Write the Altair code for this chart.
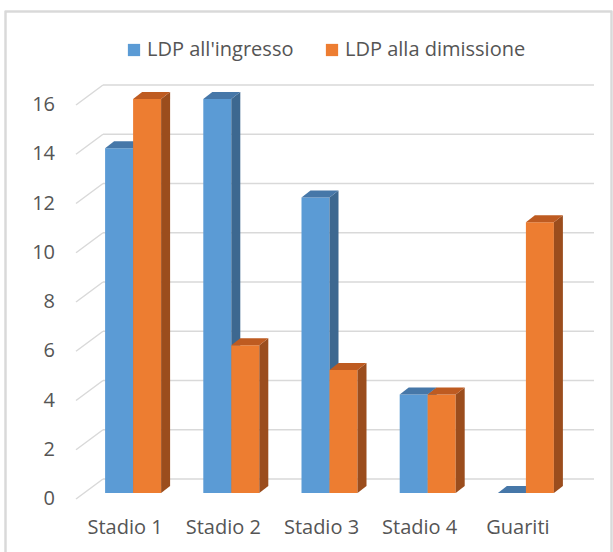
import altair as alt
import pandas as pd

# ---- data ----
categories = ["Stadio 1", "Stadio 2", "Stadio 3", "Stadio 4", "Guariti"]
series_names = ["LDP all'ingresso", "LDP alla dimissione"]
ldp_ingresso = [14, 16, 12, 4, 0]
ldp_dimissione = [16, 6, 5, 4, 11]
y_ticks = [0, 2, 4, 6, 8, 10, 12, 14, 16]

# ---- styling / geometry ----
FONT = "Open Sans"
TXT = "#555555"
GRID = "#d9d9d9"
FRONT = ["#5B9BD5", "#ED7D31"]
TOP = ["#4677A8", "#BE5B21"]
SIDE = ["#3D6890", "#9B4D1D"]

PLOT_W, PLOT_H = 491, 394
X_DOM = [-0.5, len(categories) - 0.5]
Y_DOM = [0, 16]
PX_X = PLOT_W / (X_DOM[1] - X_DOM[0])
PX_Y = PLOT_H / (Y_DOM[1] - Y_DOM[0])
BAR_PX = 28
DEPTH_DX, DEPTH_DY = 9, 7
BW = BAR_PX / PX_X
DXU = DEPTH_DX / PX_X
DYU = DEPTH_DY / PX_Y

values = [ldp_ingresso, ldp_dimissione]

fronts, sides, tops = [], [], []
for s, (name, vals) in enumerate(zip(series_names, values)):
    for i, (cat, v) in enumerate(zip(categories, vals)):
        x0 = i + (s - 1) * BW
        x1 = x0 + BW
        bid = f"{s}-{i}"
        fronts.append(dict(series=name, s=s, cat=cat, x0=x0, x1=x1, v=v))
        sides += [
            dict(id=bid, s=s, x=x1, y=v, y2=0),
            dict(id=bid, s=s, x=x1 + DXU, y=v + DYU, y2=DYU),
        ]
        tops += [
            dict(id=bid, s=s, x=x0, y=v, y2=v),
            dict(id=bid, s=s, x=x0 + DXU, y=v + DYU, y2=v),
            dict(id=bid, s=s, x=x1, y=v + DYU, y2=v),
            dict(id=bid, s=s, x=x1 + DXU, y=v + DYU, y2=v + DYU),
        ]
front_df = pd.DataFrame(fronts)
side_df = pd.DataFrame(sides)
top_df = pd.DataFrame(tops)
tick_df = pd.DataFrame({"t": y_ticks, "lab": [str(t) for t in y_ticks]})
cat_df = pd.DataFrame({"i": list(range(len(categories))), "cat": categories})

xs = alt.Scale(domain=X_DOM, nice=False, zero=False)
ys = alt.Scale(domain=Y_DOM, nice=False, zero=False)

# back-wall gridlines
grid = alt.Chart(tick_df).mark_rule(
    color=GRID, strokeWidth=1.5, xOffset=19, x2Offset=19, yOffset=-14, y2Offset=-14
).encode(
    x=alt.datum(X_DOM[0], scale=xs, axis=None),
    x2=alt.datum(X_DOM[1]),
    y=alt.Y("t:Q", scale=ys, axis=None),
    y2="t:Q",
)
# left-wall diagonals
diag = alt.Chart(tick_df).mark_rule(
    color=GRID, strokeWidth=1.5, xOffset=-8, x2Offset=19, yOffset=6, y2Offset=-14
).encode(
    x=alt.datum(X_DOM[0], scale=xs, axis=None),
    x2=alt.datum(X_DOM[0]),
    y=alt.Y("t:Q", scale=ys, axis=None),
    y2="t:Q",
)
ylab = alt.Chart(tick_df).mark_text(
    align="right", baseline="middle", xOffset=-29, yOffset=6,
    font=FONT, fontSize=20, color=TXT
).encode(
    x=alt.datum(X_DOM[0], scale=xs, axis=None),
    y=alt.Y("t:Q", scale=ys, axis=None),
    text="lab:N",
)
xlab = alt.Chart(cat_df).mark_text(
    align="center", baseline="middle", xOffset=-8, yOffset=35,
    font=FONT, fontSize=20, color=TXT
).encode(
    x=alt.X("i:Q", scale=xs, axis=None),
    y=alt.datum(0, scale=ys, axis=None),
    text="cat:N",
)

legend = alt.Legend(
    title=None, orient="none", direction="horizontal",
    legendX=40, legendY=-59, symbolType="square", symbolSize=150,
    symbolStrokeWidth=0, labelFont=FONT, labelFontSize=20, labelColor=TXT,
    labelOffset=3, columnPadding=28, padding=0, labelLimit=0,
)

layers = [grid, diag]
for s in range(2):
    front = alt.Chart(front_df[front_df.s == s]).mark_rect().encode(
        x=alt.X("x0:Q", scale=xs, axis=None),
        x2="x1:Q",
        y=alt.Y("v:Q", scale=ys, axis=None),
        y2=alt.datum(0),
        color=alt.Color("series:N", scale=alt.Scale(domain=series_names, range=FRONT),
                        legend=legend),
    )
    side = alt.Chart(side_df[side_df.s == s]).mark_area(
        orient="vertical", color=SIDE[s], opacity=1
    ).encode(
        x=alt.X("x:Q", scale=xs, axis=None),
        y=alt.Y("y:Q", scale=ys, axis=None),
        y2="y2:Q",
        detail="id:N",
    )
    top = alt.Chart(top_df[top_df.s == s]).mark_area(
        orient="vertical", color=TOP[s], opacity=1
    ).encode(
        x=alt.X("x:Q", scale=xs, axis=None),
        y=alt.Y("y:Q", scale=ys, axis=None),
        y2="y2:Q",
        detail="id:N",
    )
    layers += [front, side, top]

border = alt.Chart(cat_df).mark_rect(
    fill="transparent", stroke=GRID, strokeWidth=1.5
).encode(
    x=alt.value(-78.5), x2=alt.value(527.5), y=alt.value(-87.5), y2=alt.value(470)
)

chart = alt.layer(border, *layers, ylab, xlab).properties(
    width=PLOT_W, height=PLOT_H,
    padding={"left": 84, "top": 99, "right": 38, "bottom": 59},
    autosize="none", background="white",
).configure_view(stroke=None)

chart.save("out.html", embed_options={"renderer": "svg", "actions": False})
